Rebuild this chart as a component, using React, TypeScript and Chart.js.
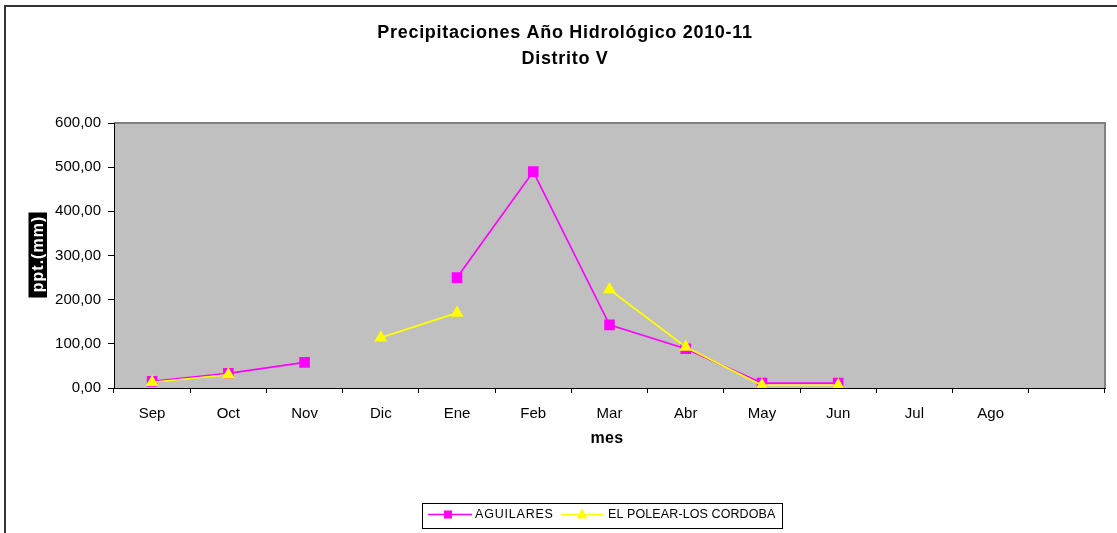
import React, { useEffect, useRef } from 'react';
import { Chart, registerables } from 'chart.js';

Chart.register(...registerables);

const categories = ['Sep', 'Oct', 'Nov', 'Dic', 'Ene', 'Feb', 'Mar', 'Abr', 'May', 'Jun', 'Jul', 'Ago', ''];
const aguilares: (number | null)[] = [15, 33, 58, null, 250, 490, 143, 89, 11, 11, null, null, null];
const polear: (number | null)[] = [13, 30, null, 114, 170, null, 223, 93, 6, 6, null, null, null];
const seriesNames = ['AGUILARES', 'EL POLEAR-LOS CORDOBA'];
const titleLines = ['Precipitaciones Año Hidrológico 2010-11', 'Distrito V'];
const yTitle = 'ppt.(mm)';
const xTitle = 'mes';

const FONT = '"Liberation Sans", Arial, sans-serif';
const MAGENTA = '#ff00ff';
const YELLOW = '#ffff00';

export default function App() {
  const ref = useRef<HTMLCanvasElement>(null);

  useEffect(() => {
    const canvas = ref.current;
    if (!canvas) return;

    const decor = {
      id: 'decor',
      beforeDraw(chart: any) {
        const { ctx, chartArea: a } = chart;
        ctx.save();
        ctx.fillStyle = '#ffffff';
        ctx.fillRect(0, 0, chart.width, chart.height);
        ctx.fillStyle = '#c0c0c0';
        ctx.fillRect(a.left, a.top, a.right - a.left, a.bottom - a.top);
        ctx.strokeStyle = '#808080';
        ctx.lineWidth = 2;
        ctx.beginPath();
        ctx.moveTo(a.left, a.top);
        ctx.lineTo(a.right, a.top);
        ctx.lineTo(a.right, a.bottom);
        ctx.stroke();
        ctx.restore();
      },
      afterDraw(chart: any) {
        const { ctx } = chart;
        ctx.save();
        // outer frame
        ctx.fillStyle = '#333333';
        ctx.fillRect(4, 5, 1113, 2);
        ctx.fillRect(4, 5, 2, 528);

        // title
        ctx.fillStyle = '#000';
        ctx.textAlign = 'center';
        ctx.textBaseline = 'middle';
        ctx.font = `bold 18px ${FONT}`;
        (ctx as any).letterSpacing = '0.7px';
        ctx.fillText(titleLines[0], 565, 33);
        ctx.fillText(titleLines[1], 565, 59);

        // x title
        ctx.font = `bold 16px ${FONT}`;
        (ctx as any).letterSpacing = '0.3px';
        ctx.fillText(xTitle, 607, 439);

        // y title: white on black, rotated
        ctx.fillStyle = '#000';
        ctx.fillRect(28.5, 212.5, 18.5, 85);
        ctx.save();
        ctx.translate(38, 255);
        ctx.rotate(-Math.PI / 2);
        ctx.fillStyle = '#fff';
        ctx.font = `bold 16px ${FONT}`;
        (ctx as any).letterSpacing = '1px';
        ctx.fillText(yTitle, 1, 1);
        ctx.restore();

        // legend
        ctx.fillStyle = '#fff';
        ctx.fillRect(422, 503, 361, 26);
        ctx.strokeStyle = '#000';
        ctx.lineWidth = 1;
        ctx.strokeRect(422.5, 503.5, 360, 25);
        const ly = 514.5;
        ctx.lineWidth = 1.5;
        ctx.strokeStyle = MAGENTA;
        ctx.beginPath();
        ctx.moveTo(428, ly);
        ctx.lineTo(472, ly);
        ctx.stroke();
        ctx.fillStyle = MAGENTA;
        ctx.fillRect(444, ly - 4, 8, 8);
        ctx.strokeStyle = YELLOW;
        ctx.beginPath();
        ctx.moveTo(561, ly);
        ctx.lineTo(603, ly);
        ctx.stroke();
        ctx.fillStyle = YELLOW;
        ctx.beginPath();
        ctx.moveTo(582, ly - 6);
        ctx.lineTo(587.5, ly + 4);
        ctx.lineTo(576.5, ly + 4);
        ctx.closePath();
        ctx.fill();
        ctx.fillStyle = '#000';
        ctx.textAlign = 'left';
        ctx.font = `12.5px ${FONT}`;
        (ctx as any).letterSpacing = '0.8px';
        ctx.fillText(seriesNames[0], 475, ly);
        (ctx as any).letterSpacing = '0.1px';
        ctx.fillText(seriesNames[1], 608, ly);
        (ctx as any).letterSpacing = '0px';
        ctx.restore();
      },
    };

    const chart = new Chart(canvas, {
      type: 'line',
      data: {
        labels: categories,
        datasets: [
          {
            label: seriesNames[0],
            data: aguilares,
            borderColor: MAGENTA,
            backgroundColor: MAGENTA,
            borderWidth: 1.7,
            pointStyle: 'rect',
            pointRadius: 7.5,
            pointBorderWidth: 0,
            pointBackgroundColor: MAGENTA,
            spanGaps: false,
            order: 1,
          },
          {
            label: seriesNames[1],
            data: polear,
            borderColor: YELLOW,
            backgroundColor: YELLOW,
            borderWidth: 1.7,
            pointStyle: 'triangle',
            pointRadius: 7.5,
            pointBorderWidth: 0,
            pointBackgroundColor: YELLOW,
            spanGaps: false,
            order: 0,
          },
        ],
      },
      options: {
        responsive: false,
        animation: false,
        devicePixelRatio: 1,
        layout: { padding: { top: 123, right: 12, bottom: 0, left: 0 } },
        plugins: {
          legend: { display: false },
          title: { display: false },
          tooltip: { enabled: false },
        },
        scales: {
          x: {
            offset: true,
            grid: {
              offset: true,
              drawOnChartArea: false,
              tickLength: 5,
              color: '#000',
              tickColor: '#000',
            },
            border: { color: '#000', width: 1 },
            ticks: {
              autoSkip: false,
              maxRotation: 0,
              color: '#000',
              padding: 12,
              font: { family: FONT, size: 15 },
            },
            afterFit(scale: any) {
              scale.height = 145;
            },
          },
          y: {
            min: 0,
            max: 600,
            grid: {
              drawOnChartArea: false,
              tickLength: 6,
              color: '#000',
              tickColor: '#000',
            },
            border: { color: '#000', width: 1 },
            ticks: {
              stepSize: 100,
              color: '#000',
              padding: 7,
              font: { family: FONT, size: 15 },
              callback: (v: any) => Number(v).toFixed(2).replace('.', ','),
            },
            afterFit(scale: any) {
              scale.width = 114;
            },
          },
        },
      },
      plugins: [decor],
    } as any);

    return () => chart.destroy();
  }, []);

  return (
    <div style={{ position: 'absolute', left: 0, top: 0, width: 1117, height: 533, background: '#fff' }}>
      <canvas ref={ref} width={1117} height={533} style={{ display: 'block' }} />
    </div>
  );
}
